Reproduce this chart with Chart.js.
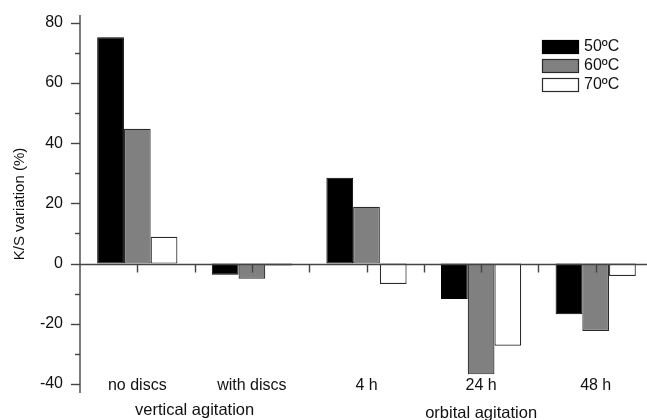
<!DOCTYPE html>
<html>
<head>
<meta charset="utf-8">
<script src="https://cdn.jsdelivr.net/npm/chart.js@4"></script>
<style>
  html, body { margin: 0; padding: 0; background: #fff; overflow: hidden; }
  #wrap { width: 653px; height: 420px; }
</style>
</head>
<body>
<div id="wrap"><canvas id="c" width="653" height="420"></canvas></div>
<script>
// ---- data ----
const categories = ['no discs', 'with discs', '4 h', '24 h', '48 h'];
const seriesLabels = ['50ºC', '60ºC', '70ºC'];
const values50 = [75.2, -3.7, 28.5, -11.8, -16.8];
const values60 = [44.8, -5.0, 18.9, -36.8, -22.4];
const values70 = [8.9, -0.6, -6.8, -27.3, -4.1];
const yMajorTicks = [-40, -20, 0, 20, 40, 60, 80];
const yMinorTicks = [-30, -10, 10, 30, 50, 70];
const groupLabels = ['vertical agitation', 'orbital agitation'];
const groupCategoryIndex = [[0, 1], [3]];
const yTitle = 'K/S variation (%)';

const FONT = "'Liberation Sans', Arial, Helvetica, sans-serif";
const TEXT = '#111';
const AXIS = '#444';

const fills = ['#000000', '#808080', '#ffffff'];
const borders = ['#000000', '#2a2a2a', '#2a2a2a'];

const axesPlugin = {
  id: 'axesPlugin',
  afterDatasetsDraw(chart) {
    const ctx = chart.ctx;
    const x = chart.scales.x, y = chart.scales.y;
    const ca = chart.chartArea;
    ctx.save();
    ctx.strokeStyle = AXIS;
    ctx.lineWidth = 1.4;
    // y axis line
    ctx.beginPath();
    ctx.moveTo(ca.left, ca.top);
    ctx.lineTo(ca.left, ca.bottom);
    ctx.stroke();
    // y ticks
    yMajorTicks.forEach(v => {
      const py = Math.round(y.getPixelForValue(v)) + 0.5;
      ctx.beginPath(); ctx.moveTo(ca.left - 9, py); ctx.lineTo(ca.left, py); ctx.stroke();
    });
    yMinorTicks.forEach(v => {
      const py = Math.round(y.getPixelForValue(v)) + 0.5;
      ctx.beginPath(); ctx.moveTo(ca.left - 5, py); ctx.lineTo(ca.left, py); ctx.stroke();
    });
    // zero line
    const y0 = Math.round(y.getPixelForValue(0)) + 0.5;
    ctx.beginPath(); ctx.moveTo(ca.left, y0); ctx.lineTo(ca.right, y0); ctx.stroke();
    // x ticks (category centres and midpoints)
    const xs = [];
    categories.forEach((c, i) => {
      xs.push(x.getPixelForValue(i));
      if (i < categories.length - 1) xs.push((x.getPixelForValue(i) + x.getPixelForValue(i + 1)) / 2);
    });
    xs.forEach(px => {
      const p = Math.round(px) + 0.5;
      ctx.beginPath(); ctx.moveTo(p, y0); ctx.lineTo(p, y0 + 8); ctx.stroke();
    });
    // category labels
    ctx.fillStyle = TEXT;
    ctx.textAlign = 'center';
    ctx.textBaseline = 'middle';
    ctx.font = '16px ' + FONT;
    categories.forEach((c, i) => ctx.fillText(c, x.getPixelForValue(i), 386));
    // group labels
    ctx.font = '16.5px ' + FONT;
    groupLabels.forEach((g, k) => {
      const idx = groupCategoryIndex[k];
      const cx = idx.reduce((s, i) => s + x.getPixelForValue(i), 0) / idx.length;
      ctx.fillText(g, cx, k === 0 ? 410 : 413);
    });
    // legend
    ctx.font = '16px ' + FONT;
    ctx.textAlign = 'left';
    chart.data.datasets.forEach((ds, i) => {
      const top = 40 + i * 19;
      ctx.fillStyle = ds.backgroundColor;
      ctx.fillRect(542, top, 36, 13);
      ctx.strokeStyle = ds.borderColor;
      ctx.lineWidth = 1.2;
      ctx.strokeRect(542.5, top + 0.5, 36, 13);
      ctx.fillStyle = TEXT;
      ctx.fillText(ds.label, 584, top + 7);
    });
    ctx.restore();
  }
};

new Chart(document.getElementById('c'), {
  type: 'bar',
  data: {
    labels: categories,
    datasets: [
      { label: seriesLabels[0], data: values50, backgroundColor: fills[0], borderColor: borders[0], borderWidth: 1 },
      { label: seriesLabels[1], data: values60, backgroundColor: fills[1], borderColor: borders[1], borderWidth: 1.2 },
      { label: seriesLabels[2], data: values70, backgroundColor: fills[2], borderColor: borders[2], borderWidth: 1.2 }
    ]
  },
  options: {
    responsive: false,
    animation: false,
    devicePixelRatio: 1,
    layout: { padding: { left: 0, top: 15, right: 0, bottom: 27 } },
    datasets: { bar: { categoryPercentage: 0.7, barPercentage: 1.0, borderSkipped: false } },
    plugins: { legend: { display: false }, tooltip: { enabled: false } },
    scales: {
      x: { display: false },
      y: {
        min: -43, max: 82.6,
        afterBuildTicks: (axis) => { axis.ticks = yMajorTicks.map(v => ({ value: v })); },
        afterFit: (axis) => { axis.width = 80; axis.paddingTop = 0; axis.paddingBottom = 0; },
        grid: { display: false, drawTicks: false },
        border: { display: false },
        ticks: { padding: 17, color: TEXT, font: { family: FONT, size: 16 } },
        title: { display: true, text: yTitle, color: TEXT, font: { family: FONT, size: 15 }, padding: { top: 11, bottom: 0 } }
      }
    }
  },
  plugins: [axesPlugin]
});
</script>
</body>
</html>
